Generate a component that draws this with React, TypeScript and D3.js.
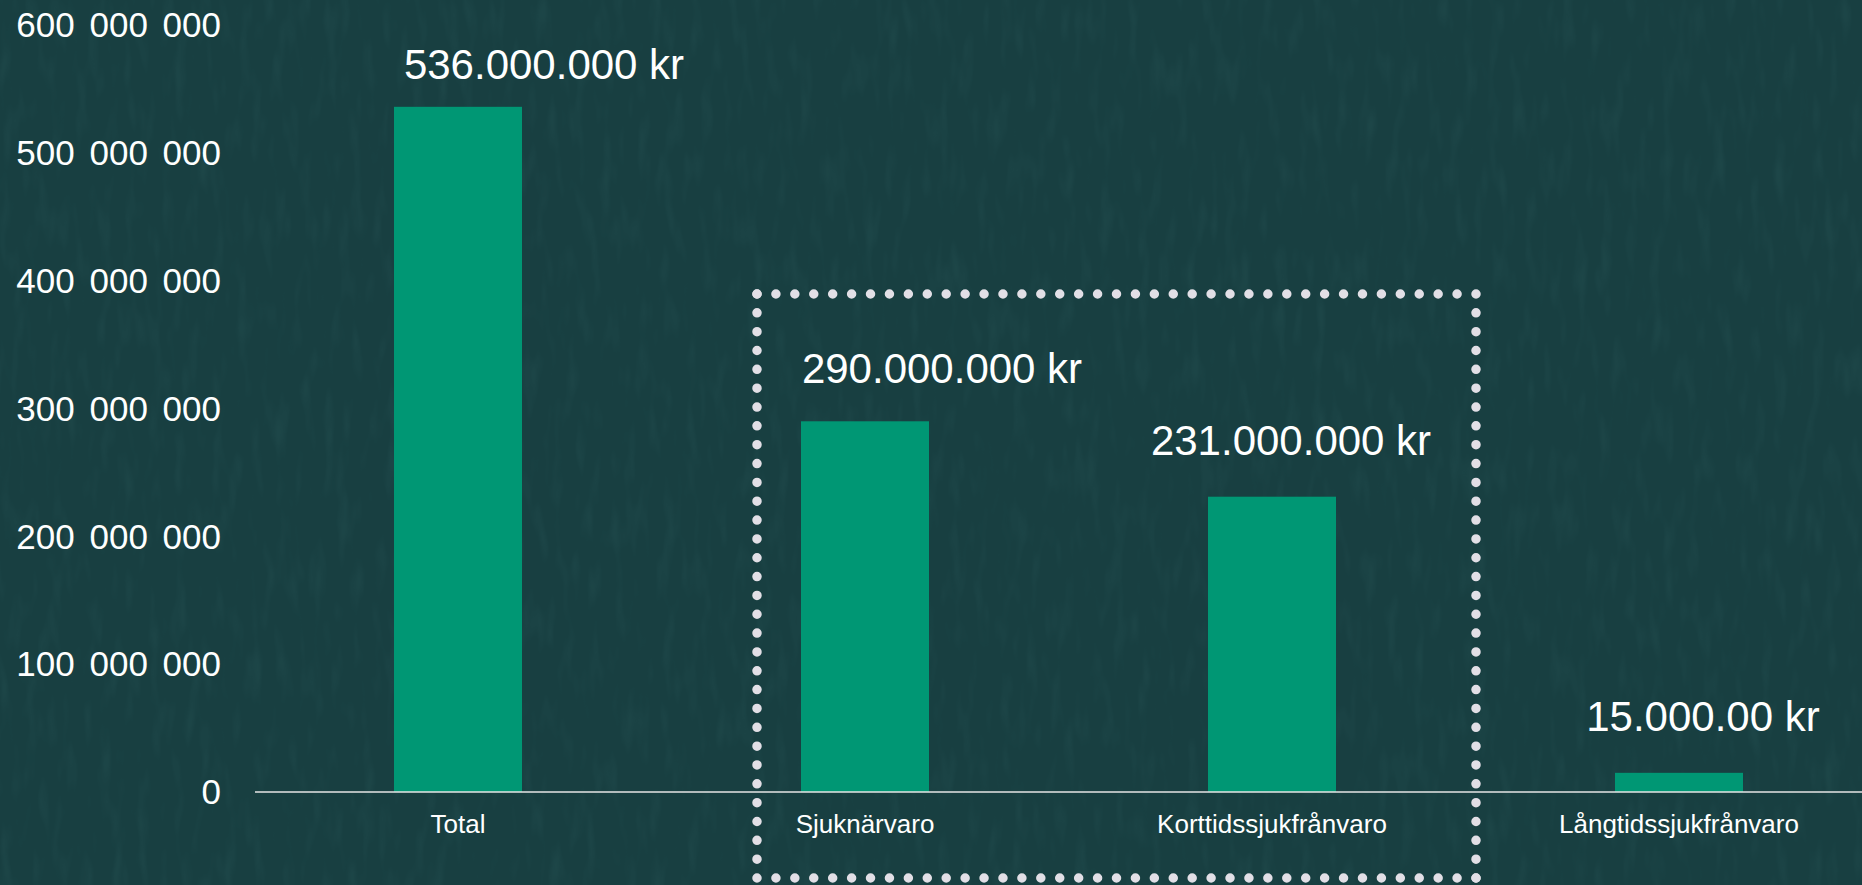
import React from "react";
import * as d3 from "d3";

const categories = ["Total", "Sjuknärvaro", "Korttidssjukfrånvaro", "Långtidssjukfrånvaro"];
const values = [536000000, 290000000, 231000000, 15000000];
const valueLabels = ["536.000.000 kr", "290.000.000 kr", "231.000.000 kr", "15.000.00 kr"];
const yTicks = [0, 100000000, 200000000, 300000000, 400000000, 500000000, 600000000];
// annotation placement (dx from bar centre, gap above bar top)
const valueLabelDx = [86, 77, 19, 24];
const valueLabelGap = [28, 38, 42, 42];
const highlighted = ["Sjuknärvaro", "Korttidssjukfrånvaro"];

const W = 1862;
const H = 885;
const BG = "#183f41";
const BAR = "#009774";
const FONT = "'Liberation Sans', Arial, sans-serif";

const fmt = d3.formatLocale({ decimal: ",", thousands: " ", grouping: [3], currency: ["", " kr"] }).format(",d");

export default function App() {
  const y = d3.scaleLinear().domain([0, 600000000]).range([792, 25]);
  const x = d3
    .scaleBand<string>()
    .domain(categories)
    .range([254.5, 1882.5])
    .paddingInner(0.6855)
    .paddingOuter(0.34275);
  const bw = x.bandwidth();

  // dotted highlight box around the highlighted categories
  const hx0 = (x(highlighted[0]) ?? 0) - 44;
  const hx1 = (x(highlighted[highlighted.length - 1]) ?? 0) + bw + 140;
  const hy0 = 294;
  const hy1 = 878;
  const dotLine = (x1: number, y1: number, x2: number, y2: number, k: number) => {
    const len = Math.hypot(x2 - x1, y2 - y1);
    const gap = len / Math.max(1, Math.round(len / 19));
    return (
      <line
        key={k}
        x1={x1}
        y1={y1}
        x2={x2}
        y2={y2}
        stroke="#e2dfe6"
        strokeWidth={9.5}
        strokeLinecap="round"
        strokeDasharray={`0 ${gap}`}
      />
    );
  };

  return (
    <svg
      width={W}
      height={H}
      style={{ position: "absolute", left: 0, top: 0, display: "block" }}
      fontFamily={FONT}
    >
      <defs>
        <filter id="tex" x="0" y="0" width="100%" height="100%">
          <feTurbulence type="fractalNoise" baseFrequency="0.08 0.02" numOctaves="2" seed="3" result="n" />
          <feColorMatrix
            in="n"
            type="matrix"
            values="0 0 0 0 0.06  0 0 0 0 0.2  0 0 0 0 0.2  0 0 0 1.2 -0.6"
          />
        </filter>
      </defs>
      <rect x={0} y={0} width={W} height={H} fill={BG} />
      <rect x={0} y={0} width={W} height={H} filter="url(#tex)" opacity={0.25} />

      {yTicks.map((t) => (
        <text
          key={t}
          x={221}
          y={y(t)}
          dy="0.35em"
          textAnchor="end"
          fill="#ffffff"
          fontSize={35}
          wordSpacing={5}
        >
          {fmt(t)}
        </text>
      ))}

      {categories.map((c, i) => (
        <rect key={c} x={x(c)} y={y(values[i])} width={bw} height={y(0) - y(values[i])} fill={BAR} />
      ))}

      <line x1={255} x2={W} y1={y(0)} y2={y(0)} stroke="#e6e6e6" strokeWidth={1.6} />

      {categories.map((c) => (
        <text
          key={c}
          x={(x(c) ?? 0) + bw / 2}
          y={833}
          textAnchor="middle"
          fill="#ffffff"
          fontSize={26}
        >
          {c}
        </text>
      ))}

      {categories.map((c, i) => (
        <text
          key={c}
          x={(x(c) ?? 0) + bw / 2 + valueLabelDx[i]}
          y={y(values[i]) - valueLabelGap[i]}
          textAnchor="middle"
          fill="#ffffff"
          fontSize={42}
        >
          {valueLabels[i]}
        </text>
      ))}

      {dotLine(hx0, hy0, hx1, hy0, 1)}
      {dotLine(hx1, hy0, hx1, hy1, 2)}
      {dotLine(hx1, hy1, hx0, hy1, 3)}
      {dotLine(hx0, hy1, hx0, hy0, 4)}
    </svg>
  );
}
